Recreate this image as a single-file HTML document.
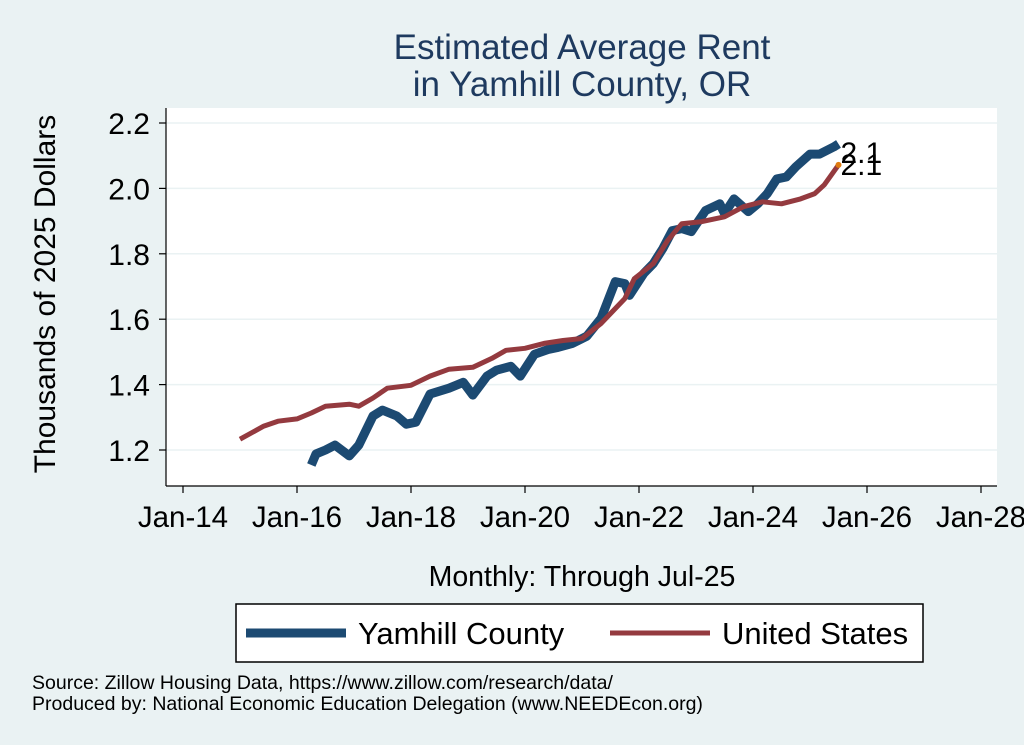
<!DOCTYPE html>
<html><head><meta charset="utf-8"><style>
body{margin:0;background:#eaf2f3;font-family:"Liberation Sans",sans-serif}
svg{display:block}
</style></head><body>
<svg width="1024" height="745" xmlns="http://www.w3.org/2000/svg">
<rect width="1024" height="745" fill="#eaf2f3"/>
<text x="582" y="59" text-anchor="middle" font-size="35" fill="#1e3a5f">Estimated Average Rent</text>
<text x="582" y="96" text-anchor="middle" font-size="35" fill="#1e3a5f">in Yamhill County, OR</text>
<rect x="166" y="108" width="831" height="378" fill="#fff"/>
<g id="grid"></g>
<g id="axes"></g>
<g id="series"></g>
<text x="55" y="294" text-anchor="middle" font-size="30" fill="#000" transform="rotate(-90 55 294)">Thousands of 2025 Dollars</text>
<text x="582" y="586" text-anchor="middle" font-size="28.5" fill="#000">Monthly: Through Jul-25</text>
<g>
<rect x="236" y="604" width="687" height="58" fill="#fff" stroke="#000" stroke-width="1.5"/>
<line x1="246" y1="633" x2="346" y2="633" stroke="#1c4a72" stroke-width="9"/>
<text x="358" y="644" font-size="31">Yamhill County</text>
<line x1="610" y1="633" x2="710" y2="633" stroke="#943a3f" stroke-width="5"/>
<text x="722" y="644" font-size="31">United States</text>
</g>
<text x="32" y="689" font-size="19.5">Source: Zillow Housing Data, https://www.zillow.com/research/data/</text>
<text x="32" y="710" font-size="19.5">Produced by: National Economic Education Delegation (www.NEEDEcon.org)</text>
</svg>
<script>
const yTicks=[1.2,1.4,1.6,1.8,2.0,2.2];
const xTickMonths=[0,24,48,72,96,120,144,168];
const xTickLabels=["Jan-14","Jan-16","Jan-18","Jan-20","Jan-22","Jan-24","Jan-26","Jan-28"];
const usMonths=[12,17,20,24,27,30,35,37,40,43,48,52,56,61,65,68,72,76,80,84,88,93,95,99,102,105,109,114,118,122,126,130,133,135,138];
const usValues=[1.233,1.273,1.288,1.295,1.313,1.334,1.340,1.334,1.359,1.389,1.398,1.426,1.447,1.453,1.480,1.505,1.511,1.526,1.535,1.541,1.587,1.663,1.724,1.770,1.840,1.892,1.898,1.913,1.944,1.959,1.953,1.968,1.984,2.011,2.072];
const yhMonths=[27,28,30,32,35,37,40,42,45,47,49,52,56,59,61,64,66,69,71,74,77,79,82,85,88,91,93,94,97,99,101,103,105,107,110,113,114,116,119,121,123,125,127,129,132,134,137,138];
const yhValues=[1.154,1.188,1.200,1.215,1.182,1.215,1.304,1.322,1.304,1.279,1.285,1.371,1.389,1.407,1.368,1.426,1.444,1.456,1.426,1.493,1.508,1.514,1.526,1.548,1.602,1.715,1.709,1.673,1.740,1.770,1.816,1.871,1.877,1.868,1.932,1.953,1.923,1.968,1.929,1.953,1.984,2.029,2.035,2.066,2.105,2.105,2.127,2.136];
const NS="http://www.w3.org/2000/svg";
const X=m=>183+m*(981-183)/168;
const Y=v=>450-(v-1.2)*327;
function mk(tag,attrs,parent){const e=document.createElementNS(NS,tag);for(const k in attrs)e.setAttribute(k,attrs[k]);parent.appendChild(e);return e;}
const grid=document.getElementById('grid'),axes=document.getElementById('axes'),ser=document.getElementById('series');
yTicks.forEach(v=>{
 const g=mk('line',{x1:166,x2:997,y1:Y(v),y2:Y(v),stroke:'#eaf2f3','stroke-width':1.5},grid);
 
 
 const t=mk('line',{x1:159,x2:166,y1:Y(v),y2:Y(v),stroke:'#000','stroke-width':1.2},axes);
 
 
 const l=mk('text',{x:150,y:Y(v)+11,'text-anchor':'end','font-size':30},axes);
 l.textContent=v.toFixed(1);
 
 
});
const ya=mk('line',{x1:166,x2:166,y1:108,y2:486,stroke:'#000','stroke-width':1.2},axes);


const xa=mk('line',{x1:166,x2:997,y1:486,y2:486,stroke:'#000','stroke-width':1.2},axes);


xTickMonths.forEach((m,i)=>{
 const t=mk('line',{x1:X(m),x2:X(m),y1:486,y2:493,stroke:'#000','stroke-width':1.2},axes);
 
 
 const l=mk('text',{x:X(m),y:527,'text-anchor':'middle','font-size':29.5},axes);
 l.textContent=xTickLabels[i];
 
 
});
function pts(ms,vs){return ms.map((m,i)=>X(m).toFixed(1)+','+Y(vs[i]).toFixed(1)).join(' ');}
const yl=mk('polyline',{points:pts(yhMonths,yhValues),fill:'none',stroke:'#1c4a72','stroke-width':9,'stroke-linejoin':'round'},ser);


const ul=mk('polyline',{points:pts(usMonths,usValues),fill:'none',stroke:'#943a3f','stroke-width':5,'stroke-linejoin':'round'},ser);


const lastU=usValues.length-1,lastY=yhValues.length-1;
const dot=mk('circle',{cx:X(usMonths[lastU]),cy:Y(usValues[lastU]),r:3,fill:'#e07b10'},ser);


const ly=mk('text',{x:X(yhMonths[lastY])+2,y:Y(yhValues[lastY])+19,'font-size':30},ser);
ly.textContent=yhValues[lastY].toFixed(1);


const lu=mk('text',{x:X(usMonths[lastU])+2,y:Y(usValues[lastU])+10,'font-size':30},ser);
lu.textContent=usValues[lastU].toFixed(1);


</script>
</body></html>
